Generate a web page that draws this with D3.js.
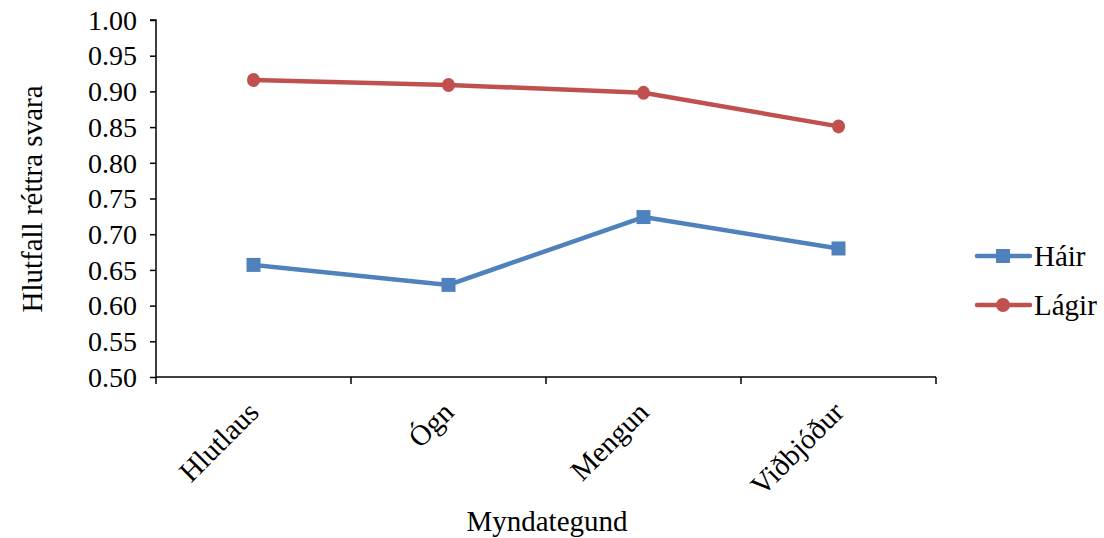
<!DOCTYPE html>
<html><head><meta charset="utf-8">
<script src="https://cdn.jsdelivr.net/npm/d3@7"></script>
<style>body{margin:0;background:#fff;} svg{display:block;}</style>
</head><body><svg id="c" width="1104" height="538"></svg>
<script>
const categories = ["Hlutlaus", "Ógn", "Mengun", "Viðbjóður"];
const seriesNames = ["Háir", "Lágir"];
const hairValues = [0.657, 0.629, 0.724, 0.680];
const lagirValues = [0.916, 0.909, 0.898, 0.851];
const yTicks = [0.50,0.55,0.60,0.65,0.70,0.75,0.80,0.85,0.90,0.95,1.00];
const colors = ["#4F81BD", "#C0504D"];
const FONT = "'Liberation Serif', 'Times New Roman', Times, 'DejaVu Serif', serif";

const svg = d3.select("#c");
const L = 156, R = 936, T = 20, B = 377;
const x = d3.scaleBand().domain(categories).range([L, R]);
const y = d3.scaleLinear().domain([0.5, 1.0]).range([B, T]);

// y axis
const ya = svg.append("g").attr("transform", `translate(${L},0)`)
  .call(d3.axisLeft(y).tickValues(yTicks).tickFormat(d3.format(".2f")).tickSize(6).tickPadding(13));
ya.attr("font-family", FONT).attr("font-size", 28);
ya.select(".domain").attr("stroke","#000").attr("stroke-width",1.5).attr("d", `M-6,${T}H0V${B}`);
ya.selectAll(".tick line").attr("stroke","#000").attr("stroke-width",1.5);
ya.selectAll(".tick text").attr("fill","#000").attr("dy","0.33em");

// x axis
const xa = svg.append("g").attr("transform", `translate(0,${B})`)
  .call(d3.axisBottom(x).tickSize(0).tickPadding(0));
xa.attr("font-family", FONT).attr("font-size", 29);
xa.select(".domain").attr("stroke","#000").attr("stroke-width",1.5).attr("d", `M${L},0H${R}`);
xa.selectAll(".tick line").remove();
const bounds = [L, ...categories.map(c => x(c) + x.bandwidth())];
xa.selectAll(".bt").data(bounds).enter().append("line")
  .attr("x1", d => d).attr("x2", d => d).attr("y1", 0).attr("y2", 7)
  .attr("stroke","#000").attr("stroke-width",1.5);
xa.selectAll(".tick text")
  .attr("fill","#000")
  .attr("text-anchor","end")
  .attr("dy","0")
  .attr("transform","translate(7,37) rotate(-45)");

// axis titles
svg.append("text").attr("x", 547).attr("y", 531).attr("text-anchor","middle")
  .attr("font-family", FONT).attr("font-size", 29).text("Myndategund");
svg.append("text").attr("transform", `translate(42,199) rotate(-90)`)
  .attr("text-anchor","middle").attr("font-family", FONT).attr("font-size", 29).text("Hlutfall réttra svara");

const data = [hairValues, lagirValues];
const line = d3.line().x((d,i) => x(categories[i]) + x.bandwidth()/2).y(d => y(d));
data.forEach((vals, si) => {
  svg.append("path").attr("d", line(vals)).attr("fill","none")
    .attr("stroke", colors[si]).attr("stroke-width", 4.5).attr("stroke-linejoin","round");
  const g = svg.append("g");
  vals.forEach((v, i) => {
    const cx = x(categories[i]) + x.bandwidth()/2, cy = y(v);
    if (si === 0) g.append("rect").attr("x", cx-7).attr("y", cy-7).attr("width",14).attr("height",14).attr("fill", colors[si]);
    else g.append("ellipse").attr("cx", cx).attr("cy", cy).attr("rx", 6.5).attr("ry", 7).attr("fill", colors[si]);
  });
});

// legend
const legY = [256, 305];
seriesNames.forEach((n, si) => {
  const g = svg.append("g");
  g.append("line").attr("x1", 977).attr("x2", 1030).attr("y1", legY[si]).attr("y2", legY[si])
    .attr("stroke", colors[si]).attr("stroke-width", 4.5).attr("stroke-linecap","round");
  if (si === 0) g.append("rect").attr("x", 996).attr("y", legY[si]-7).attr("width",14).attr("height",14).attr("fill", colors[si]);
  else g.append("circle").attr("cx", 1003).attr("cy", legY[si]).attr("r", 7).attr("fill", colors[si]);
  g.append("text").attr("x", 1034).attr("y", legY[si]).attr("dy","0.33em")
    .attr("font-family", FONT).attr("font-size", 29).text(n);
});
</script></body></html>
